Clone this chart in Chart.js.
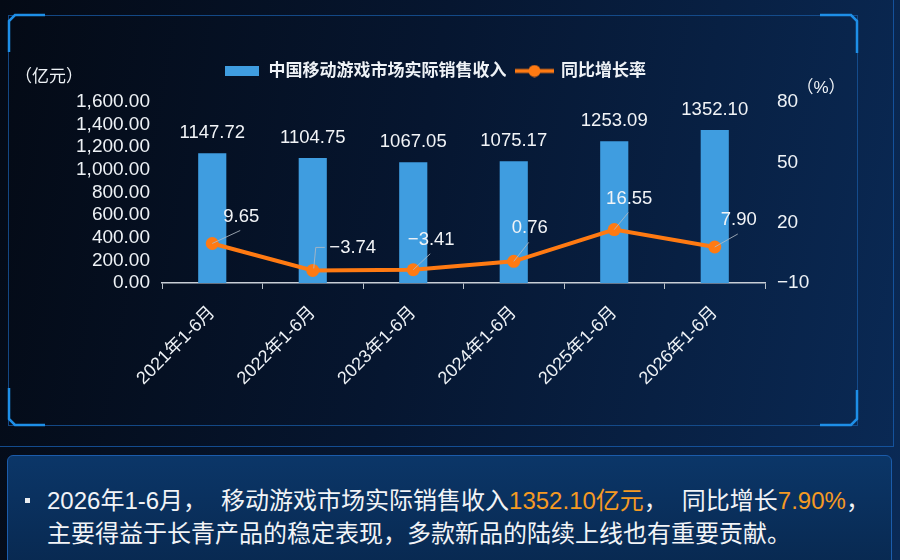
<!DOCTYPE html>
<html>
<head>
<meta charset="utf-8">
<script src="https://cdn.jsdelivr.net/npm/chart.js@4.4.1/dist/chart.umd.min.js"></script>
<style>
  html, body { margin: 0; padding: 0; }
  body {
    width: 900px; height: 560px; overflow: hidden; position: relative;
    background: linear-gradient(100deg, #040a15 0%, #061630 45%, #0a2a56 100%);
    font-family: "Liberation Sans", "Noto Sans CJK SC", sans-serif;
  }
  .outer { position: absolute; left: -2px; top: -2px; width: 896px; height: 449px;
    border: 1px solid rgba(24, 96, 180, 0.75); box-sizing: border-box; }
  .frame { position: absolute; left: 8px; top: 15px; width: 850px; height: 411px;
    border: 1px solid rgba(22, 82, 150, 0.85); box-sizing: border-box; }
  svg.deco { position: absolute; left: 0; top: 0; }
  #wrap { position: absolute; left: 0; top: 0; width: 900px; height: 450px; }
  .note { position: absolute; left: 7px; top: 455px; width: 885px; height: 120px;
    border: 1px solid #1b5cab; border-radius: 6px; box-sizing: border-box;
    background: linear-gradient(180deg, #0b3668 0%, #08284f 100%);
    padding: 28px 0 0 39px; color: #f2f4f7;
    font-family: "Liberation Sans", "Noto Sans CJK SC", sans-serif; font-size: 24px; line-height: 33px; }
  .note .dot { position: absolute; left: 17px; top: 42px; width: 5px; height: 5px; background: #e8ecf0; }
  .note .hl { color: #f59a23; }
  .note .wide { letter-spacing: 14px; }
</style>
</head>
<body>
<div class="outer"></div>
<div class="frame"></div>
<svg class="deco" width="900" height="450">
  <g fill="none" stroke="#1e8fe8" stroke-width="2.5">
    <path d="M9,52 L9,21 L15,15 L45,15"/>
    <path d="M820,15 L851,15 L857,21 L857,53"/>
    <path d="M9,388 L9,419 L15,425 L45,425"/>
    <path d="M820,425 L851,425 L857,419 L857,390"/>
  </g>
</svg>
<div id="wrap"><canvas id="chart" width="900" height="450"></canvas></div>
<div class="note">
  <span class="dot"></span>
  <div id="line1"></div>
  <div>主要得益于长青产品的稳定表现，多款新品的陆续上线也有重要贡献。</div>
</div>
<script>
const categories = ["2021年1-6月", "2022年1-6月", "2023年1-6月", "2024年1-6月", "2025年1-6月", "2026年1-6月"];
const revenue = [1147.72, 1104.75, 1067.05, 1075.17, 1253.09, 1352.10];
const growth = [9.65, -3.74, -3.41, 0.76, 16.55, 7.90];
const revenueTicks = [0, 200, 400, 600, 800, 1000, 1200, 1400, 1600];
const growthTicks = [-10, 20, 50, 80];

// label placement for the growth values (offset from the point)
const growthLabelDx = [29, 40, 18, 16, 15, 24];
const growthLabelDy = [-27, -23, -30, -33, -31, -27];
const growthLeader = ["line", "elbow", "line", "line", "line", "line"];

const BLUE = "#3f9de0";
const ORANGE = "#ff7a12";
const TEXT = "#eef2f6";
const FONT = '"Liberation Sans", "Noto Sans CJK SC", sans-serif';

const fmtSigned = (v) => v.toFixed(2).replace("-", "\u2212");

const last = categories.length - 1;
document.getElementById("line1").innerHTML =
  `${categories[last]}<span class="wide">，</span>移动游戏市场实际销售收入<span class="hl">${revenue[last].toFixed(2)}亿元</span><span class="wide">，</span>同比增长<span class="hl">${growth[last].toFixed(2)}%</span>，`;

// legend icons
const barIcon = document.createElement("canvas");
barIcon.width = 34; barIcon.height = 10;
barIcon.getContext("2d").fillStyle = BLUE;
barIcon.getContext("2d").fillRect(0, 0, 34, 10);

const lineIcon = document.createElement("canvas");
lineIcon.width = 39; lineIcon.height = 13;
(() => {
  const c = lineIcon.getContext("2d");
  c.strokeStyle = ORANGE; c.lineWidth = 4;
  c.beginPath(); c.moveTo(0, 6.5); c.lineTo(39, 6.5); c.stroke();
  c.fillStyle = ORANGE;
  c.beginPath(); c.arc(19.5, 6.5, 6, 0, Math.PI * 2); c.fill();
})();
const legendIcons = [barIcon, lineIcon];

const valueLabels = {
  id: "valueLabels",
  afterDatasetsDraw(chart) {
    const ctx = chart.ctx;
    ctx.save();
    ctx.font = `18.5px ${FONT}`;
    ctx.fillStyle = "#f2f4f7";
    ctx.textAlign = "center";
    ctx.textBaseline = "middle";
    chart.getDatasetMeta(0).data.forEach((bar, i) => {
      ctx.fillText(revenue[i].toFixed(2), bar.x, bar.y - 20);
    });
    chart.getDatasetMeta(1).data.forEach((pt, i) => {
      const lx = pt.x + growthLabelDx[i];
      const ly = pt.y + growthLabelDy[i];
      ctx.strokeStyle = "rgba(175,185,195,0.85)";
      ctx.lineWidth = 1;
      ctx.beginPath();
      if (growthLeader[i] === "elbow") {
        ctx.moveTo(pt.x + 1, pt.y - 2);
        ctx.lineTo(pt.x + 3, ly);
        ctx.lineTo(lx - 28, ly);
      } else {
        ctx.moveTo(pt.x, pt.y);
        ctx.lineTo(lx - 1, ly + 14);
      }
      ctx.stroke();
      ctx.fillText(fmtSigned(growth[i]), lx, ly);
    });
    ctx.restore();
  },
  afterDraw(chart) {
    const { ctx, chartArea } = chart;
    ctx.save();
    ctx.font = `17px ${FONT}`;
    ctx.fillStyle = TEXT;
    ctx.textAlign = "center";
    ctx.textBaseline = "middle";
    ctx.fillText("（亿元）", chartArea.left - 113, chartArea.top - 25);
    ctx.fillText("（%）", chartArea.right + 56, chartArea.top - 14);
    ctx.restore();
  },
};

new Chart(document.getElementById("chart"), {
  data: {
    labels: categories,
    datasets: [
      {
        type: "bar",
        label: "中国移动游戏市场实际销售收入",
        data: revenue,
        backgroundColor: BLUE,
        barPercentage: 0.28,
        categoryPercentage: 1,
        yAxisID: "y",
        order: 2,
      },
      {
        type: "line",
        label: "同比增长率",
        data: growth,
        borderColor: ORANGE,
        backgroundColor: ORANGE,
        borderWidth: 4,
        pointRadius: 6.5,
        pointBorderWidth: 0,
        pointBackgroundColor: ORANGE,
        tension: 0,
        yAxisID: "y1",
        order: 1,
      },
    ],
  },
  options: {
    responsive: false,
    animation: false,
    layout: { padding: { top: 52.5, right: 30, left: 0, bottom: 0 } },
    scales: {
      x: {
        grid: { offset: true, drawOnChartArea: false, tickLength: 6, color: "#b8c0c8" },
        border: { color: "#c8ced6", width: 1.5 },
        ticks: {
          color: TEXT,
          font: { size: 18, family: FONT },
          minRotation: 45,
          maxRotation: 45,
          autoSkip: false,
          padding: 13,
        },
        afterFit: (s) => { s.height = 167; },
      },
      y: {
        position: "left",
        min: 0,
        max: 1600,
        grid: { display: false, drawTicks: false },
        border: { display: false },
        ticks: {
          color: TEXT,
          font: { size: 19, family: FONT },
          padding: 12,
          autoSkip: false,
          callback: (v) => v.toLocaleString("en-US", { minimumFractionDigits: 2, maximumFractionDigits: 2 }),
        },
        afterBuildTicks: (s) => { s.ticks = revenueTicks.map((v) => ({ value: v })); },
        afterFit: (s) => { s.width = 162; },
      },
      y1: {
        position: "right",
        min: -10,
        max: 80,
        grid: { display: false, drawTicks: false },
        border: { display: false },
        ticks: {
          color: TEXT,
          font: { size: 19, family: FONT },
          padding: 12,
          autoSkip: false,
          callback: (v) => String(v).replace("-", "\u2212"),
        },
        afterBuildTicks: (s) => { s.ticks = growthTicks.map((v) => ({ value: v })); },
        afterFit: (s) => { s.width = 105; },
      },
    },
    plugins: {
      legend: {
        position: "top",
        labels: {
          usePointStyle: true,
          pointStyleWidth: 36,
          padding: 10,
          color: TEXT,
          font: { size: 17, weight: "bold", family: FONT },
          generateLabels: (chart) =>
            chart.data.datasets.map((ds, i) => ({
              text: ds.label,
              pointStyle: legendIcons[i],
              fillStyle: ds.backgroundColor,
              strokeStyle: ds.backgroundColor,
              lineWidth: 0,
              fontColor: TEXT,
              hidden: false,
              datasetIndex: i,
            })),
        },
      },
      subtitle: { display: true, text: "", weight: 500, padding: 0, font: { size: 10, lineHeight: 1.25 } },
      tooltip: { enabled: false },
    },
  },
  plugins: [valueLabels],
});
</script>
</body>
</html>
